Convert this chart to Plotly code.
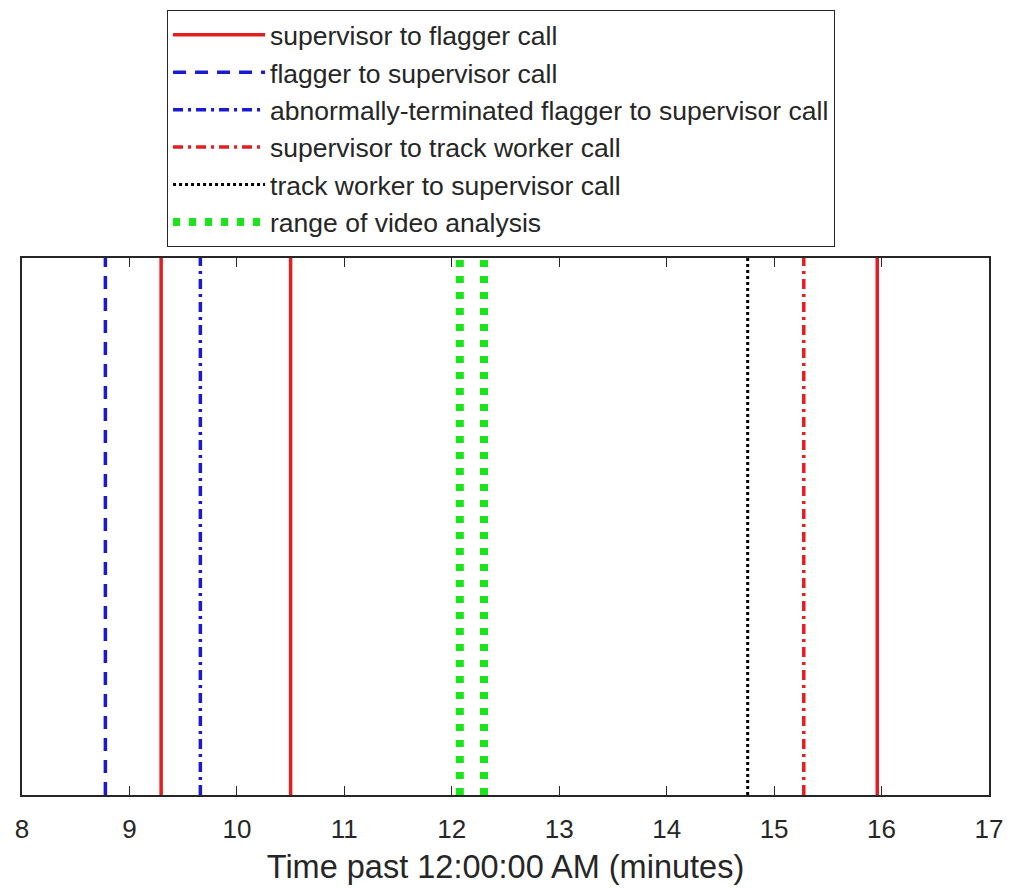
import plotly.graph_objects as go

# Event times (minutes past 12:00:00 AM)
sup_to_flagger = [9.295, 10.50, 15.96]
flagger_to_sup = [8.776]
abnormal_flagger_to_sup = [9.66]
sup_to_track = [15.276]
track_to_sup = [14.754]
video_range = [12.075, 12.30]

series = [
    ("supervisor to flagger call", sup_to_flagger, "#e41e1e", "solid", 3.5),
    ("flagger to supervisor call", flagger_to_sup, "#1a1ad2", "13px,9px", 3.5),
    ("abnormally-terminated flagger to supervisor call", abnormal_flagger_to_sup, "#1a1ad2", "10px,5px,3px,5px", 3.5),
    ("supervisor to track worker call", sup_to_track, "#e41e1e", "10px,5px,3px,5px", 3.5),
    ("track worker to supervisor call", track_to_sup, "#000000", "3px,3px", 3),
    ("range of video analysis", video_range, "#19e619", "7px,9px", 8),
]

fig = go.Figure()
for i, (name, xs, color, dash, w) in enumerate(series):
    for j, xv in enumerate(xs):
        fig.add_trace(go.Scatter(
            x=[xv, xv], y=[0, 1], mode="lines", name=name,
            line=dict(color=color, dash=dash, width=w),
            legendgroup=f"g{i}", showlegend=(j == 0),
        ))

fig.update_layout(
    width=1013, height=894,
    paper_bgcolor="white", plot_bgcolor="white",
    margin=dict(l=14, r=32, t=250, b=107, autoexpand=False),
    font=dict(family="Liberation Sans, Arial, sans-serif", color="#262626", size=24),
    legend=dict(
        x=0.150, y=1 + 248 / 537, xanchor="left", yanchor="top",
        bordercolor="#262626", borderwidth=1, bgcolor="white",
        font=dict(size=26.5, color="#262626"),
        tracegroupgap=0, itemwidth=92,
    ),
    xaxis=dict(
        range=[8, 17], tickvals=list(range(8, 18)), ticks="inside", ticklen=9,
        tickcolor="#262626", showline=True, linecolor="#262626", linewidth=1.5,
        mirror="ticks", showgrid=False, zeroline=False,
        tickfont=dict(size=26, color="#262626"), ticklabelstandoff=10,
        title=dict(text="Time past 12:00:00 AM (minutes)", font=dict(size=32.5, color="#262626"), standoff=12),
    ),
    yaxis=dict(
        range=[0, 1], showticklabels=False, ticks="", showline=True,
        linecolor="#262626", linewidth=1.5, mirror=True, showgrid=False, zeroline=False,
    ),
)

fig.write_html("out.html")
